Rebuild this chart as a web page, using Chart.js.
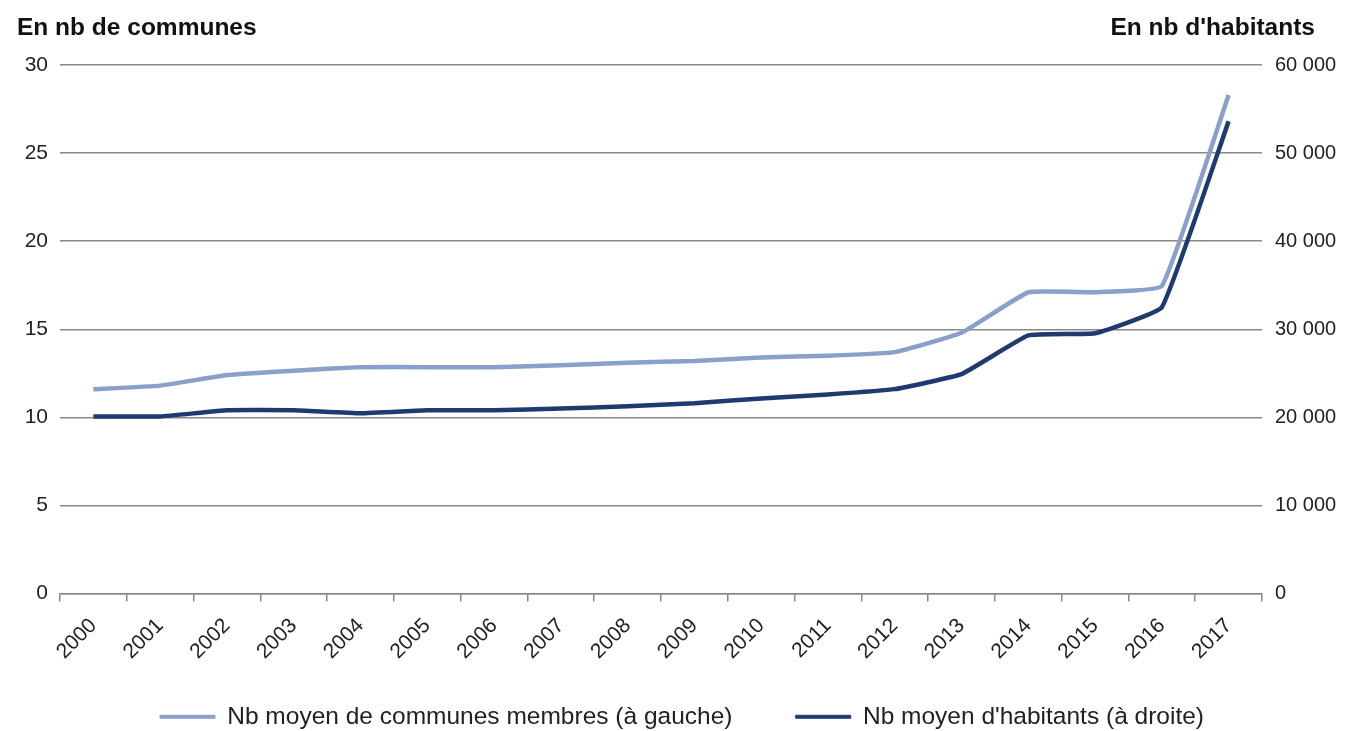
<!DOCTYPE html>
<html>
<head>
<meta charset="utf-8">
<script src="https://cdn.jsdelivr.net/npm/chart.js@4.4.1/dist/chart.umd.min.js"></script>
<style>
body{margin:0;background:#fff;}
#wrap{width:1364px;height:731px;}
</style>
</head>
<body>
<div id="wrap"><canvas id="chart"></canvas></div>
<script>
// data
const years=["2000","2001","2002","2003","2004","2005","2006","2007","2008","2009","2010","2011","2012","2013","2014","2015","2016","2017"];
const communes=[11.6,11.8,12.4,12.65,12.85,12.85,12.85,12.95,13.1,13.2,13.4,13.5,13.7,14.8,17.1,17.1,17.45,28.3];
const habitants=[20100,20100,20800,20800,20450,20800,20800,21000,21250,21600,22150,22600,23200,24900,29300,29550,32500,53600];
const leftTicks=[0,5,10,15,20,25,30];
const rightTicks=[0,10000,20000,30000,40000,50000,60000];

const FONT="'Liberation Sans', Arial, sans-serif";

function fmt(v){
return String(v).replace(/\B(?=(\d{3})+(?!\d))/g," ");
}

const titles={
id:"titles",
afterDraw(chart){
const c=chart.ctx;
c.save();
c.fillStyle="#111";
c.font="bold 24.5px "+FONT;
c.textBaseline="alphabetic";
c.textAlign="left";
c.fillText("En nb de communes",17,35);
c.textAlign="right";
c.fillText("En nb d'habitants",1315,35);
c.restore();
}
};

new Chart(document.getElementById("chart"),{
type:"line",
data:{
labels:years,
datasets:[
{label:"Nb moyen de communes membres (à gauche)",data:communes,yAxisID:"y",borderColor:"#8a9fc9",backgroundColor:"#8a9fc9",borderWidth:4.5,pointRadius:0,tension:0.1},
{label:"Nb moyen d'habitants (à droite)",data:habitants,yAxisID:"y1",borderColor:"#1e3b70",backgroundColor:"#1e3b70",borderWidth:4.5,pointRadius:0,tension:0.1}
]
},
plugins:[titles],
options:{
responsive:true,
maintainAspectRatio:false,
animation:false,
layout:{padding:{top:65,left:0,right:0,bottom:-8}},
plugins:{
legend:{
position:"bottom",
labels:{
boxWidth:55,boxHeight:3,color:"#222",font:{family:FONT,size:24.5},padding:2,
// thin line swatches, wider gap between the two entries
generateLabels(chart){
const items=Chart.defaults.plugins.legend.labels.generateLabels(chart);
items.forEach(it=>{it.lineWidth=1;});
items[0].text+="\u00a0".repeat(9);
return items;
}
}
},
tooltip:{enabled:false}
},
scales:{
x:{
offset:true,
grid:{display:true,drawOnChartArea:false,offset:true,tickLength:8,color:"#888",lineWidth:1.5},
border:{display:true,color:"#888",width:1.5},
ticks:{color:"#222",font:{family:FONT,size:21},minRotation:45,maxRotation:45,padding:12},
afterFit(s){s.height=109;}
},
y:{
position:"left",
min:0,max:30,
afterBuildTicks(s){s.ticks=leftTicks.map(v=>({value:v}));},
grid:{color:"#888",lineWidth:1.5,drawTicks:false},
border:{display:false},
ticks:{color:"#222",font:{family:FONT,size:21},padding:12},
afterFit(s){s.width=60;}
},
y1:{
position:"right",
min:0,max:60000,
afterBuildTicks(s){s.ticks=rightTicks.map(v=>({value:v}));},
grid:{display:false,drawTicks:false},
border:{display:false},
ticks:{color:"#222",font:{family:FONT,size:20},padding:13,callback:v=>fmt(v)},
afterFit(s){s.width=102;}
}
}
}
});
</script>
</body>
</html>
